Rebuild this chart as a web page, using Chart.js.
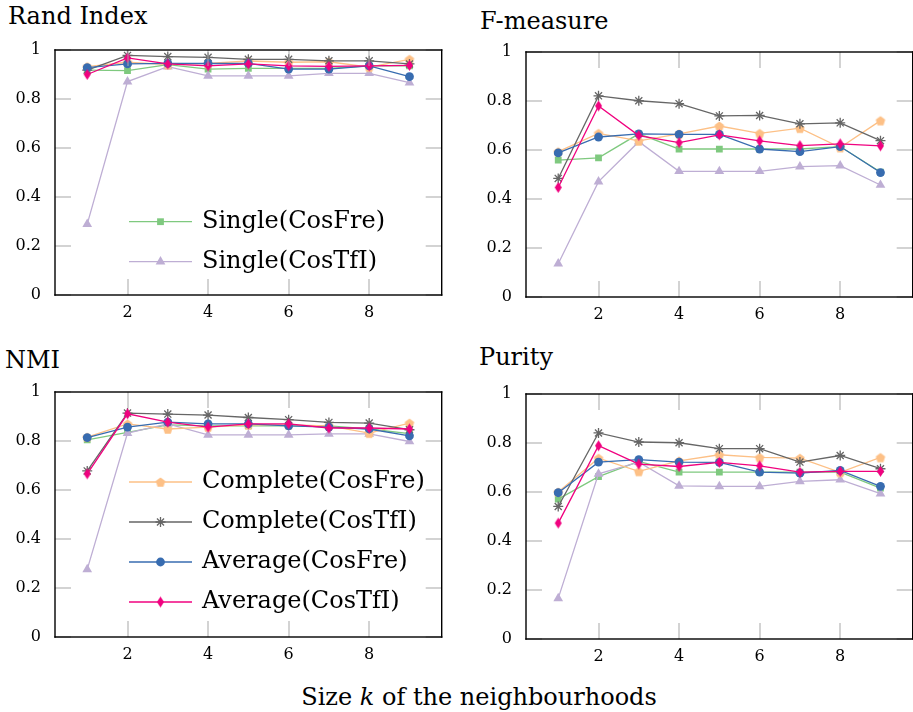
<!DOCTYPE html>
<html>
<head>
<meta charset="utf-8">
<script src="https://cdn.jsdelivr.net/npm/chart.js@4.4.1/dist/chart.umd.min.js"></script>
<style>
  body { margin: 0; width: 913px; height: 712px; overflow: hidden; background: #fff; font-family: "DejaVu Serif", serif; }
  .panel { position: absolute; }
  .panel canvas { display: block; }
  .title { position: absolute; font-size: 24px; line-height: 24px; color: #000; white-space: nowrap; }
  .xlabel { position: absolute; left: 279px; width: 400px; top: 685px; text-align: center; font-size: 24px; line-height: 24px; white-space: nowrap; }
</style>
</head>
<body>
<div class="title" style="left:8px;top:4px">Rand Index</div>
<div class="title" style="left:480px;top:9px">F-measure</div>
<div class="title" style="left:5px;top:348px">NMI</div>
<div class="title" style="left:479px;top:345px">Purity</div>
<div class="xlabel">Size <i>k</i> of the neighbourhoods</div>

<div class="panel" style="left:0px;top:0px"><canvas id="chartRand" width="448" height="330"></canvas></div>
<div class="panel" style="left:471px;top:2px"><canvas id="chartFmeasure" width="448" height="330"></canvas></div>
<div class="panel" style="left:0px;top:342px"><canvas id="chartNmi" width="448" height="330"></canvas></div>
<div class="panel" style="left:471px;top:344px"><canvas id="chartPurity" width="448" height="330"></canvas></div>

<script>
const ks = [1, 2, 3, 4, 5, 6, 7, 8, 9];
const xTicks = [2, 4, 6, 8];
const yTicks = [0, 0.2, 0.4, 0.6, 0.8, 1];

const seriesNames = ["Single(CosFre)", "Single(CosTfI)", "Complete(CosFre)", "Complete(CosTfI)", "Average(CosFre)", "Average(CosTfI)"];
const seriesColors = ["#7fc97f", "#beaed4", "#fdc086", "#666666", "#386cb0", "#f0027f"];

// Rand Index
const randSingleFre   = [0.918, 0.916, 0.940, 0.922, 0.925, 0.925, 0.925, 0.935, 0.935];
const randSingleTfi   = [0.289, 0.871, 0.932, 0.894, 0.894, 0.894, 0.905, 0.905, 0.867];
const randCompleteFre = [0.932, 0.950, 0.940, 0.945, 0.955, 0.950, 0.952, 0.930, 0.962];
const randCompleteTfi = [0.918, 0.978, 0.973, 0.970, 0.962, 0.962, 0.956, 0.956, 0.943];
const randAverageFre  = [0.928, 0.943, 0.945, 0.945, 0.945, 0.922, 0.922, 0.935, 0.891];
const randAverageTfi  = [0.900, 0.968, 0.943, 0.935, 0.943, 0.935, 0.933, 0.935, 0.937];

// F-measure
const fSingleFre   = [0.559, 0.568, 0.666, 0.604, 0.604, 0.604, 0.604, 0.614, 0.510];
const fSingleTfi   = [0.136, 0.471, 0.634, 0.513, 0.513, 0.513, 0.532, 0.536, 0.457];
const fCompleteFre = [0.593, 0.668, 0.637, 0.666, 0.698, 0.668, 0.689, 0.610, 0.720];
const fCompleteTfi = [0.484, 0.821, 0.801, 0.789, 0.739, 0.741, 0.707, 0.711, 0.638];
const fAverageFre  = [0.588, 0.653, 0.666, 0.664, 0.664, 0.604, 0.593, 0.614, 0.508];
const fAverageTfi  = [0.447, 0.780, 0.659, 0.630, 0.662, 0.637, 0.618, 0.625, 0.617];

// NMI
const nmiSingleFre   = [0.805, 0.835, 0.866, 0.862, 0.862, 0.862, 0.862, 0.849, 0.830];
const nmiSingleTfi   = [0.276, 0.832, 0.870, 0.825, 0.825, 0.825, 0.829, 0.829, 0.798];
const nmiCompleteFre = [0.816, 0.870, 0.849, 0.857, 0.866, 0.866, 0.862, 0.832, 0.873];
const nmiCompleteTfi = [0.678, 0.914, 0.910, 0.906, 0.896, 0.887, 0.876, 0.873, 0.846];
const nmiAverageFre  = [0.814, 0.857, 0.877, 0.870, 0.870, 0.862, 0.857, 0.849, 0.821];
const nmiAverageTfi  = [0.666, 0.911, 0.877, 0.857, 0.870, 0.870, 0.853, 0.853, 0.849];

// Purity
const purSingleFre   = [0.571, 0.663, 0.725, 0.681, 0.681, 0.681, 0.681, 0.681, 0.616];
const purSingleTfi   = [0.166, 0.674, 0.722, 0.625, 0.623, 0.623, 0.643, 0.650, 0.593];
const purCompleteFre = [0.600, 0.738, 0.684, 0.727, 0.752, 0.741, 0.738, 0.680, 0.741];
const purCompleteTfi = [0.541, 0.841, 0.804, 0.801, 0.777, 0.777, 0.722, 0.749, 0.695];
const purAverageFre  = [0.597, 0.722, 0.732, 0.722, 0.721, 0.681, 0.677, 0.688, 0.623];
const purAverageTfi  = [0.473, 0.789, 0.714, 0.704, 0.721, 0.707, 0.681, 0.684, 0.684];

Chart.defaults.font.family = '"DejaVu Serif", serif';
Chart.defaults.color = "#000";

// pgfplots-like marks that chart.js doesn't have
function pentagonMark(color, r) {
  const c = document.createElement("canvas");
  c.width = c.height = Math.ceil(r * 2) + 2;
  const g = c.getContext("2d");
  g.fillStyle = color;
  g.beginPath();
  for (let i = 0; i < 5; i++) {
    const a = -Math.PI / 2 + i * 2 * Math.PI / 5;
    g.lineTo(c.width / 2 + r * Math.cos(a), c.height / 2 + r * Math.sin(a) + 0.6);
  }
  g.closePath();
  g.fill();
  return c;
}
function diamondMark(color, w, h) {
  const c = document.createElement("canvas");
  c.width = w + 2; c.height = h + 2;
  const g = c.getContext("2d");
  g.fillStyle = color;
  g.beginPath();
  g.moveTo(c.width / 2, 1);
  g.lineTo(c.width - 1, c.height / 2);
  g.lineTo(c.width / 2, c.height - 1);
  g.lineTo(1, c.height / 2);
  g.closePath();
  g.fill();
  return c;
}

const markStyles = ["rect", "triangle", pentagonMark("#fdc086", 5), "star", "circle", diamondMark("#f0027f", 7, 11)];
const markRadius = [4.8, 5.6, 5, 5, 4.4, 5];

const TICK_LEN = 16;
const TICK_COLOR = "#a8a8a8";
const FRAME_WIDTH = 1.4;

function makeDatasets(values) {
  return values.map((vals, i) => ({
    label: seriesNames[i],
    data: ks.map((k, j) => ({ x: k, y: vals[j] })),
    borderColor: seriesColors[i],
    backgroundColor: seriesColors[i],
    borderWidth: 1.3,
    pointStyle: markStyles[i],
    pointRadius: markRadius[i],
    pointBorderWidth: i === 3 ? 1.3 : 0,
    pointBorderColor: seriesColors[i],
    pointBackgroundColor: seriesColors[i],
    order: values.length - i,
  }));
}

function makeScales() {
  const fixTicks = vals => s => { s.ticks = vals.map(v => ({ value: v })); };
  const noGrid = { display: false, drawTicks: false };
  return {
    x: {
      type: "linear", position: "bottom", min: 0.2, max: 9.8,
      afterBuildTicks: fixTicks(xTicks),
      afterFit: s => { s.height = 30; },
      grid: noGrid, border: { display: false },
      ticks: { padding: 8, font: { size: 16 }, maxRotation: 0, autoSkip: false, callback: v => String(v) },
    },
    y: {
      type: "linear", position: "left", min: 0, max: 1,
      afterBuildTicks: fixTicks(yTicks),
      afterFit: s => { s.width = 55; },
      grid: noGrid, border: { display: false },
      ticks: { padding: 14, font: { size: 16 }, callback: v => String(v) },
    },
  };
}

// inward tick marks on all four sides + black frame, like pgfplots
const frameTicks = {
  id: "frameTicks",
  afterDraw(chart) {
    const { ctx, chartArea: a, scales } = chart;
    ctx.save();
    ctx.setLineDash([]);
    ctx.globalAlpha = 1;
    ctx.globalCompositeOperation = "source-over";
    ctx.fillStyle = TICK_COLOR;
    scales.x.ticks.forEach(t => {
      const px = Math.round(scales.x.getPixelForValue(t.value));
      ctx.fillRect(px - 0.5, a.top, 1, TICK_LEN);
      ctx.fillRect(px - 0.5, a.bottom - TICK_LEN, 1, TICK_LEN);
    });
    scales.y.ticks.forEach(t => {
      const py = Math.round(scales.y.getPixelForValue(t.value));
      ctx.fillRect(a.left, py - 0.5, TICK_LEN, 1);
      ctx.fillRect(a.right - TICK_LEN, py - 0.5, TICK_LEN, 1);
    });
    const w = FRAME_WIDTH;
    ctx.fillStyle = "#000";
    ctx.fillRect(a.left - w / 2, a.top - w / 2, a.right - a.left + w, w);
    ctx.fillRect(a.left - w / 2, a.bottom - w / 2, a.right - a.left + w, w);
    ctx.fillRect(a.left - w / 2, a.top - w / 2, w, a.bottom - a.top + w);
    ctx.fillRect(a.right - w / 2, a.top - w / 2, w, a.bottom - a.top + w);
    ctx.restore();
  },
};

// legend drawn inside the plot box, no frame
const panelLegend = {
  id: "panelLegend",
  afterDatasetsDraw(chart, args, opts) {
    if (!opts.items || !opts.items.length) return;
    const { ctx, chartArea } = chart;
    ctx.save();
    ctx.font = '24px "DejaVu Serif"';
    ctx.textBaseline = "middle";
    opts.items.forEach((idx, row) => {
      const ds = chart.data.datasets[idx];
      const y = chartArea.top + opts.top + row * opts.rowGap;
      const x0 = chartArea.left + opts.left;
      ctx.strokeStyle = ds.borderColor;
      ctx.lineWidth = ds.borderWidth;
      ctx.beginPath();
      ctx.moveTo(x0, y);
      ctx.lineTo(x0 + opts.lineLength, y);
      ctx.stroke();
      ctx.fillStyle = ds.backgroundColor;
      ctx.lineWidth = ds.pointBorderWidth || 0;
      if (Chart.helpers && Chart.helpers.drawPoint) {
        Chart.helpers.drawPoint(ctx, { pointStyle: ds.pointStyle, radius: ds.pointRadius, borderWidth: ds.pointBorderWidth, rotation: 0 }, x0 + opts.lineLength / 2, y);
      }
      ctx.fillStyle = "#000";
      ctx.fillText(ds.label, x0 + opts.lineLength + opts.gap, y);
    });
    ctx.restore();
  },
};

function makePanel(id, values, legendItems, legendTop) {
  new Chart(document.getElementById(id), {
    type: "line",
    data: { datasets: makeDatasets(values) },
    options: {
      responsive: false,
      animation: false,
      devicePixelRatio: 1,
      layout: { padding: { top: 50, right: 2.5, bottom: 5, left: 0 } },
      scales: makeScales(),
      plugins: {
        legend: { display: false },
        tooltip: { enabled: false },
        panelLegend: { items: legendItems, top: legendTop, rowGap: 40, left: 74, lineLength: 63, gap: 10 },
      },
    },
    plugins: [frameTicks, panelLegend],
  });
}

makePanel("chartRand", [randSingleFre, randSingleTfi, randCompleteFre, randCompleteTfi, randAverageFre, randAverageTfi], [0, 1], 171.7);
makePanel("chartFmeasure", [fSingleFre, fSingleTfi, fCompleteFre, fCompleteTfi, fAverageFre, fAverageTfi], [], 0);
makePanel("chartNmi", [nmiSingleFre, nmiSingleTfi, nmiCompleteFre, nmiCompleteTfi, nmiAverageFre, nmiAverageTfi], [2, 3, 4, 5], 90);
makePanel("chartPurity", [purSingleFre, purSingleTfi, purCompleteFre, purCompleteTfi, purAverageFre, purAverageTfi], [], 0);
</script>
</body>
</html>
